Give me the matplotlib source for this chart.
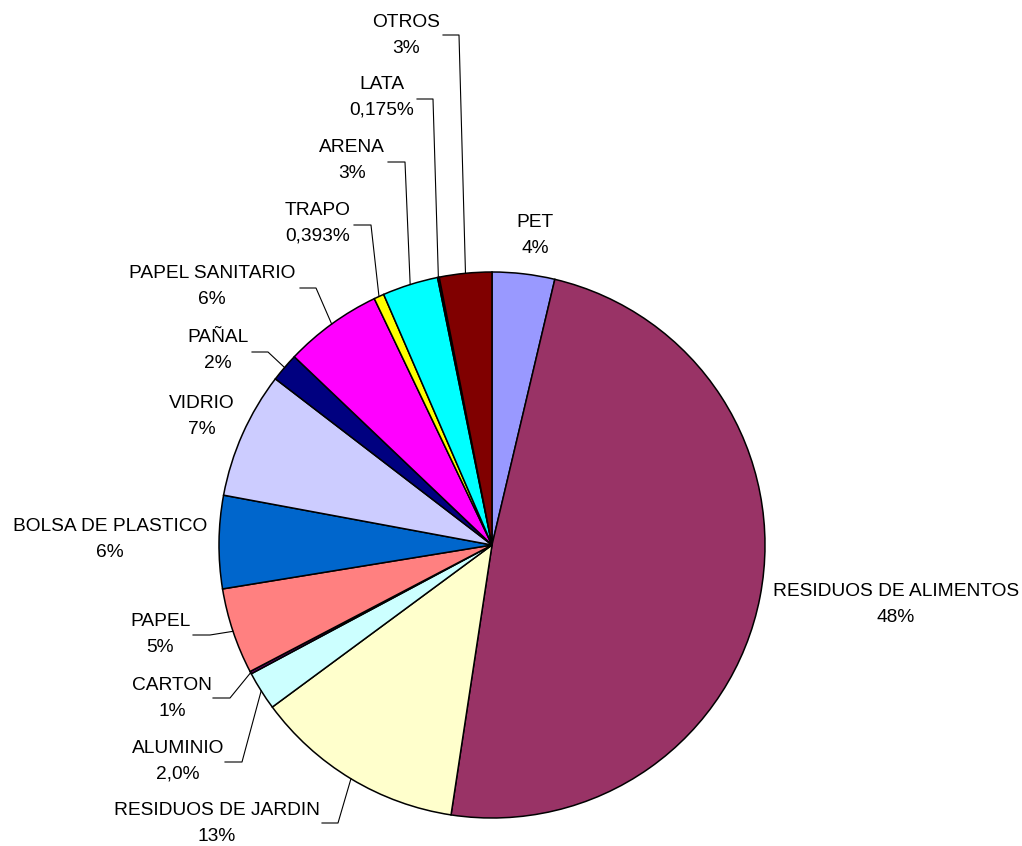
import matplotlib.pyplot as plt
import numpy as np

# Composicion de residuos (% en peso), en orden horario desde las 12
categorias = ["PET", "RESIDUOS DE ALIMENTOS", "RESIDUOS DE JARDIN", "ALUMINIO",
              "CARTON", "PAPEL", "BOLSA DE PLASTICO", "VIDRIO", "PAÑAL",
              "PAPEL SANITARIO", "TRAPO", "ARENA", "LATA", "OTROS"]
valores = [3.7, 48.75, 12.5, 2.3, 0.15, 5.1, 5.5, 7.5, 1.7, 5.8, 0.6, 3.3, 0.1, 3.1]
etiquetas_pct = ["4%", "48%", "13%", "2,0%", "1%", "5%", "6%", "7%", "2%",
                 "6%", "0,393%", "3%", "0,175%", "3%"]
colores = ["#9999FF", "#993366", "#FFFFCC", "#CCFFFF", "#660066", "#FF8080",
           "#0066CC", "#CCCCFF", "#000080", "#FF00FF", "#FFFF00", "#00FFFF",
           "#800080", "#800000"]

# posicion de cada etiqueta en pixeles (x centro, y primera linea) y guia (x0, x1, y)
posiciones = {
    "PET": (535, 222, None),
    "RESIDUOS DE ALIMENTOS": (896, 591, None),
    "RESIDUOS DE JARDIN": (217, 810, (322, 338, 823)),
    "ALUMINIO": (178, 748, (225, 242, 762)),
    "CARTON": (172, 685, (213, 230, 698)),
    "PAPEL": (160, 621, (193, 210, 635)),
    "BOLSA DE PLASTICO": (110, 526, None),
    "VIDRIO": (202, 403, None),
    "PAÑAL": (218, 337, (252, 268, 352)),
    "PAPEL SANITARIO": (212, 273, (300, 316, 288)),
    "TRAPO": (318, 210, (354, 371, 225)),
    "ARENA": (352, 147, (388, 405, 162)),
    "LATA": (382, 84, (417, 433, 99)),
    "OTROS": (406, 22, (443, 459, 35)),
}

W, H = 1022, 846
plt.rcParams['font.family'] = ['Liberation Sans', 'DejaVu Sans']

fig = plt.figure(figsize=(W / 100, H / 100), dpi=100)
ax = fig.add_axes([0, 0, 1, 1])

cx, cy, radio = 492, H - 545, 273
wedges, _ = ax.pie(valores, colors=colores, startangle=90, counterclock=False,
                   center=(cx, cy), radius=radio,
                   wedgeprops=dict(edgecolor='black', linewidth=1.1))
ax.set_xlim(0, W)
ax.set_ylim(0, H)
ax.set_aspect('equal')
ax.axis('off')

for w, nombre, pct in zip(wedges, categorias, etiquetas_pct):
    x, y, guia = posiciones[nombre]
    ax.text(x, H - y, nombre, ha='center', va='center', fontsize=13.8, color='black')
    ax.text(x, H - y - 26, pct, ha='center', va='center', fontsize=13.8, color='black')
    if guia is not None:
        ang = np.deg2rad((w.theta1 + w.theta2) / 2)
        px, py = cx + radio * np.cos(ang), cy + radio * np.sin(ang)
        x0, x1, yg = guia
        ax.plot([x0, x1, px], [H - yg, H - yg, py], color='black', linewidth=0.8)

fig.savefig("out.png", dpi=100, facecolor='white')
